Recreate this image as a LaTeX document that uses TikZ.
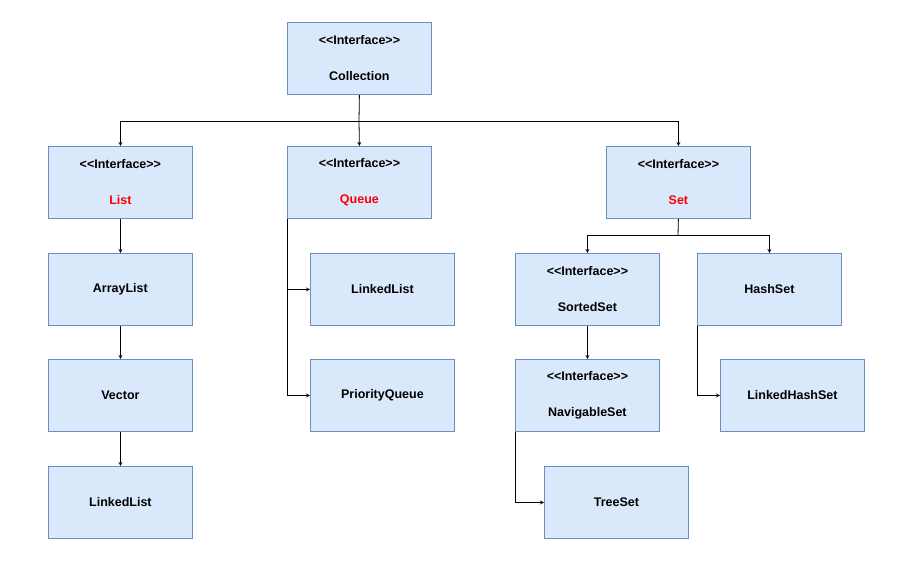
\documentclass[tikz,border=0pt]{standalone}
\usepackage{fontspec}
\setmainfont{Liberation Sans}
\begin{document}
\begin{tikzpicture}[x=1pt,y=-1pt,
 box/.style={draw=blue!40!gray!80, fill=blue!12!white, line width=0.8pt, minimum width=144pt, minimum height=72pt, inner sep=0pt, font=\bfseries\fontsize{12.5}{14}\selectfont, anchor=north west, align=center},
 ar/.style={-stealth, line width=0.8pt}, ln/.style={line width=0.8pt}]
\useasboundingbox (0,0) rectangle (901,572);
\definecolor{bfill}{HTML}{DAE8FC}\definecolor{bdraw}{HTML}{6C8EBF}
\tikzset{box/.append style={fill=bfill,draw=bdraw}}
\newcommand{\iface}[2]{<{}<Interface>{}>\\[22pt]#2}
\node[box] (col) at (287,22) {\iface{}{Collection}};
\node[box] (list) at (48,146) {\iface{}{\textcolor{red}{List}}};
\node[box] (queue) at (287,146) {\iface{}{\textcolor{red}{Queue}}};
\node[box] (set) at (606,146) {\iface{}{\textcolor{red}{Set}}};
\node[box] (al) at (48,253) {ArrayList};
\node[box] (vec) at (48,359) {Vector};
\node[box] (ll) at (48,466) {LinkedList};
\node[box] (qll) at (310,253) {LinkedList};
\node[box] (pq) at (310,359) {PriorityQueue};
\node[box] (ss) at (515,253) {\iface{}{SortedSet}};
\node[box] (hs) at (697,253) {HashSet};
\node[box] (ns) at (515,359) {\iface{}{NavigableSet}};
\node[box] (ts) at (544,466) {TreeSet};
\node[box] (lhs) at (720,359) {LinkedHashSet};
\draw[ln] (col.south) -- (359,121) coordinate (c1);
\draw[ar] (c1) -| (list.north);
\draw[ar] (c1) -- (queue.north);
\draw[ar] (c1) -| (set.north);
\draw[ar] (list) -- (al);
\draw[ar] (al) -- (vec);
\draw[ar] (vec) -- (ll);
\draw[ar] (queue.south west) |- (qll.west);
\draw[ar] (queue.south west) |- (pq.west);
\draw[ln] (set.south) -- (678,235) coordinate (s1);
\draw[ar] (s1) -| (ss.north);
\draw[ar] (s1) -| (hs.north);
\draw[ar] (ss) -- (ns);
\draw[ar] (ns.south west) |- (ts.west);
\draw[ar] (hs.south west) |- (lhs.west);
\end{tikzpicture}
\end{document}
